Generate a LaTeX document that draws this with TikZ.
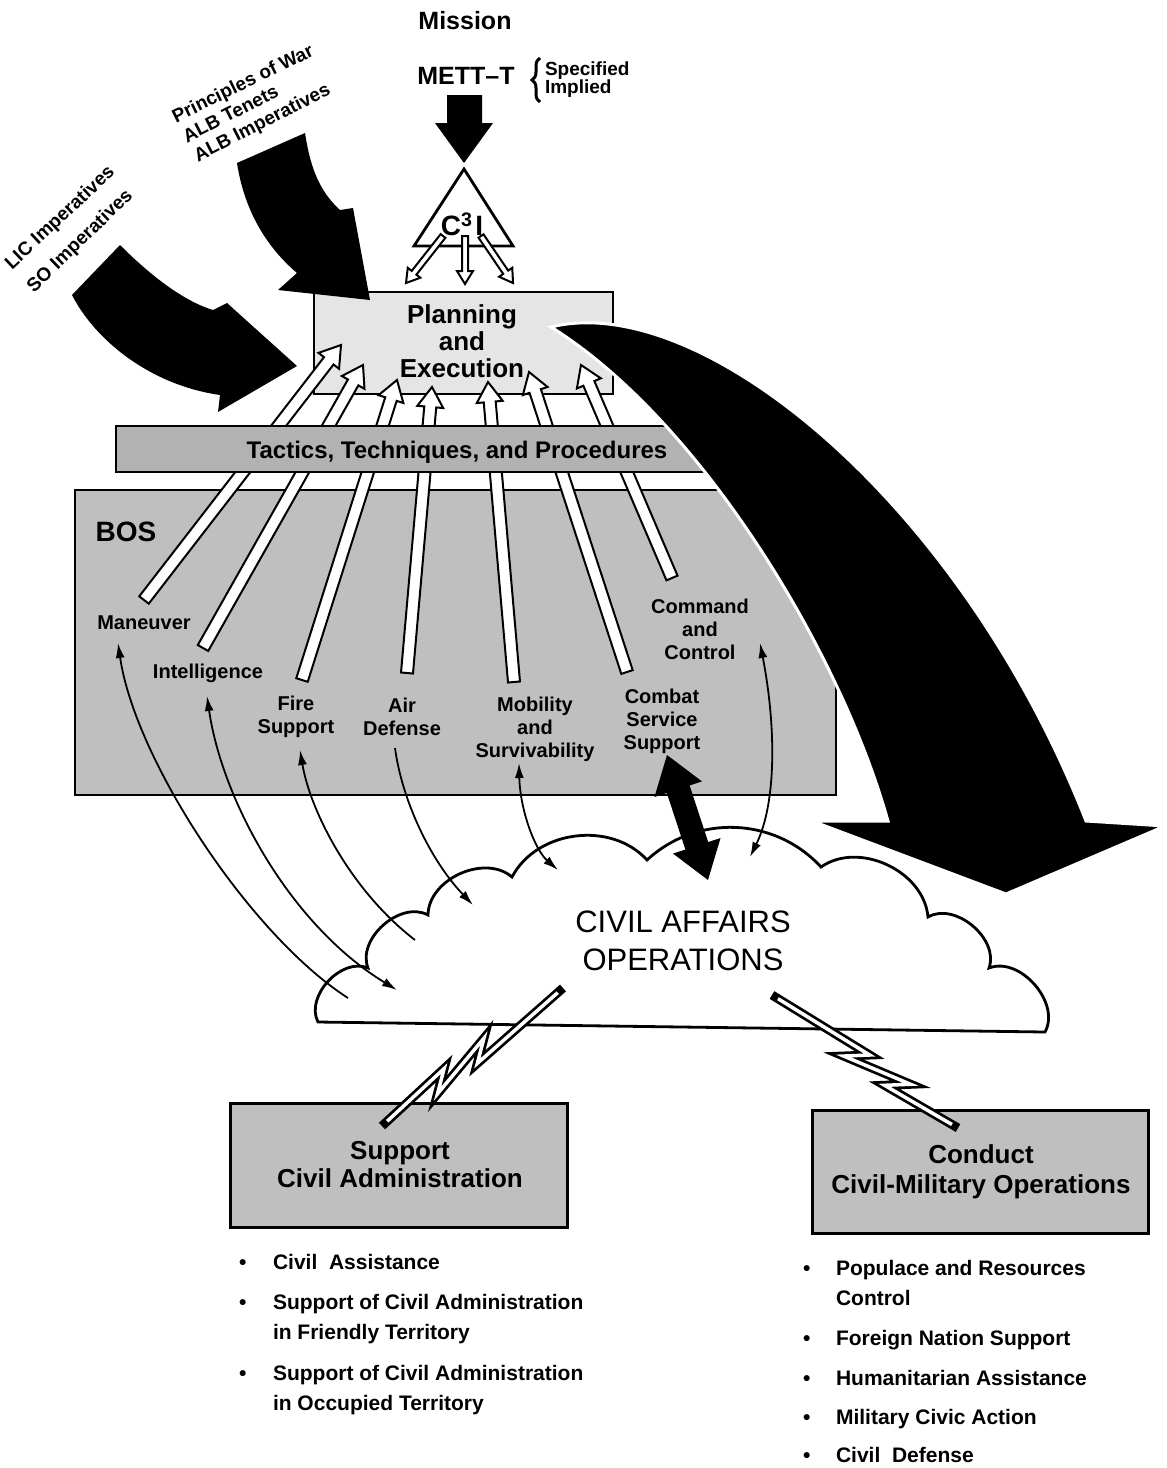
\documentclass[tikz,border=0pt]{standalone}
\usepackage{fontspec}
\setmainfont{Liberation Sans}
\usetikzlibrary{calc,arrows.meta,decorations.pathreplacing}

\newcommand{\hollowarrow}[6]{%
  \coordinate (#1hb) at ($(#3)!#6!(#2)$);
  \filldraw[hollowarr] ($(#2)!#4!90:(#3)$) -- ($(#1hb)!#4!90:(#3)$) -- ($(#1hb)!#5!90:(#3)$) -- (#3) -- ($(#1hb)!#5!-90:(#3)$) -- ($(#1hb)!#4!-90:(#3)$) -- ($(#2)!#4!-90:(#3)$) -- cycle;
}
\newcommand{\zigbolt}[2]{%
  \draw[line width=9pt, line join=miter, miter limit=5] (#1) -- ($(#1)!0.50!(#2)!8pt!90:(#2)$) -- ($(#1)!0.41!(#2)!8pt!-90:(#2)$) -- ($(#1)!0.72!(#2)!8pt!90:(#2)$) -- ($(#1)!0.63!(#2)!8pt!-90:(#2)$) -- (#2);
  \draw[line width=3.5pt, white, line join=miter, miter limit=5, shorten <=7pt, shorten >=7pt] (#1) -- ($(#1)!0.50!(#2)!8pt!90:(#2)$) -- ($(#1)!0.41!(#2)!8pt!-90:(#2)$) -- ($(#1)!0.72!(#2)!8pt!90:(#2)$) -- ($(#1)!0.63!(#2)!8pt!-90:(#2)$) -- (#2);
}

\begin{document}
\begin{tikzpicture}[x=1pt,y=-1pt,
  every node/.style={inner sep=0pt,outer sep=0pt},
  bf/.style 2 args={font=\bfseries\fontsize{#1}{#2}\selectfont},
  rg/.style 2 args={font=\fontsize{#1}{#2}\selectfont},
  boxfill/.style={fill=black!25, draw=black, line width=2.5pt},
  hollowarr/.style={fill=white, draw=black, line width=2pt, line join=miter},
  thinarr/.style={line width=1.8pt},
  listtext/.style={bf={21}{21}, anchor=west, text height=14pt, text depth=0pt},
  >={Latex[length=15pt,width=9pt]}
]
\useasboundingbox (0,0) rectangle (1167,1468);

% ---------- BOS box and Planning box
\node[boxfill, minimum width=761pt, minimum height=305pt] (bos) at (455.5,642.5) {};
\node[fill=black!10, draw=black, line width=2.2pt, minimum width=299pt, minimum height=102pt] (plan) at (463.5,343) {};

% ---------- hollow arrows BOS -> Planning
\coordinate (mant) at (144,600);  \coordinate (manh) at (341,345);
\coordinate (intt) at (203,648);  \coordinate (inth) at (363,365);
\coordinate (fst)  at (302,680);  \coordinate (fsh)  at (397,380);
\coordinate (adt)  at (407,673);  \coordinate (adh)  at (432,387);
\coordinate (mobt) at (514,682);  \coordinate (mobh) at (488,382);
\coordinate (csst) at (627,672);  \coordinate (cssh) at (529,372);
\coordinate (cct)  at (672,578);  \coordinate (cch)  at (581,365);
\hollowarrow{man}{mant}{manh}{6pt}{13pt}{20pt}
\hollowarrow{int}{intt}{inth}{6pt}{13pt}{20pt}
\hollowarrow{fs}{fst}{fsh}{6pt}{13pt}{20pt}
\hollowarrow{ad}{adt}{adh}{6pt}{13pt}{20pt}
\hollowarrow{mob}{mobt}{mobh}{6pt}{13pt}{20pt}
\hollowarrow{css}{csst}{cssh}{6pt}{13pt}{20pt}
\hollowarrow{cc}{cct}{cch}{6pt}{13pt}{20pt}

% ---------- TTP bar
\node[fill=black!30, draw=black, line width=2.2pt, minimum width=609pt, minimum height=46pt] (ttp) at (420.5,449) {};
\node[bf={24}{24}] (ttpt) at (457,452) {Tactics, Techniques, and Procedures};

% ---------- texts
\node[bf={26}{27}, align=center] (plant) at (462,341) {Planning\\and\\Execution};
\node[bf={28}{28}] (bosl) at (126,532) {BOS};
\node[bf={20}{20}] (manl) at (144,623) {Maneuver};
\node[bf={20}{20}] (intl) at (208,673) {Intelligence};
\node[bf={20}{23}, align=center] (fsl) at (296,717) {Fire\\Support};
\node[bf={20}{23}, align=center] (adl) at (402,717) {Air\\Defense};
\node[bf={20}{23}, align=center] (mobl) at (535,729) {Mobility\\and\\Survivability};
\node[bf={20}{23}, align=center] (cssl) at (662,721) {Combat\\Service\\Support};
\node[bf={20}{23}, align=center] (ccl) at (700,629) {Command\\and\\Control};

% ---------- big black arrow to the right
\filldraw[fill=black, draw=white, line width=3pt, line join=miter]
  (551,327) .. controls (700,290) and (960,500) .. (1086,821)
  -- (1165,826) -- (1006,894) -- (812,821) -- (888,821)
  .. controls (840,650) and (700,420) .. (551,327) -- cycle;

% ---------- left black curved arrows
\fill[black] (237,163) .. controls (245,215) and (270,250) .. (297,273) -- (278,290) -- (370,300) -- (353,208) -- (340,210) .. controls (318,190) and (310,165) .. (305,133) -- cycle;
\fill[black] (72,295) .. controls (95,340) and (150,385) .. (220,395) -- (218,412) -- (297,366) -- (227,303) -- (213,310) .. controls (180,300) and (145,270) .. (120,245) -- cycle;

\node[bf={19}{19}, rotate=26, anchor=base west] (pw) at (176,123) {Principles of War};
\node[bf={19}{19}, rotate=27, anchor=base west] (alt) at (187,143) {ALB Tenets};
\node[bf={19}{19}, rotate=27, anchor=base west] (ali) at (198,162) {ALB Imperatives};
\node[bf={19}{19}, rotate=43, anchor=base west] (lic) at (12,270) {LIC Imperatives};
\node[bf={19}{19}, rotate=44, anchor=base west] (soi) at (34,293) {SO Imperatives};

% ---------- Mission, METT-T, C3I
\node[bf={25}{25}] (mission) at (465,21) {Mission};
\node[bf={25}{25}] (mett) at (466,76) {METT--T};
\draw[decorate, decoration={brace, amplitude=8pt}, line width=3pt] (540,102) -- (540,58);
\node[bf={19}{19}, anchor=west] (spec) at (545,71) {Specified};
\node[bf={19}{19}, anchor=west] (impl) at (545,89) {Implied};
\fill[black] (447,95) -- (482,95) -- (482,123) -- (493,123) -- (464,163) -- (435,123) -- (447,123) -- cycle;
\draw[line width=2.8pt, fill=white, line join=miter] (464,169) -- (513,246) -- (414,246) -- cycle;
\node[bf={28}{28}] (c3i) at (462,224) {C\textsuperscript{3}\kern3pt I};
\coordinate (cat) at (443,236); \coordinate (cah) at (406,283);
\coordinate (cbt) at (465,236); \coordinate (cbh) at (465,284);
\coordinate (cct2) at (481,236); \coordinate (cch2) at (513,283);
\hollowarrow{ca}{cat}{cah}{3pt}{8pt}{13pt}
\hollowarrow{cb}{cbt}{cbh}{3pt}{8pt}{13pt}
\hollowarrow{cc2}{cct2}{cch2}{3pt}{8pt}{13pt}

% ---------- cloud
\draw[line width=2.8pt, fill=white] (318,1022) to[bend left=70] (368,968) to[bend left=70] (428,915) to[bend left=65] (512,877) to[bend left=55] (647,860) to[bend left=45] (821,867) to[bend left=60] (928,917) to[bend left=70] (989,968) to[bend left=70] (1045,1032) -- cycle;
\node[rg={31}{38}, align=center] (cao) at (683,941) {CIVIL AFFAIRS\\OPERATIONS};

% ---------- thin arrows BOS <-> cloud
\coordinate (m1) at (118,643); \coordinate (m2) at (348,998);
\coordinate (i1) at (207,696); \coordinate (i2) at (397,990);
\coordinate (f1) at (300,750); \coordinate (f2) at (415,940);
\coordinate (a1) at (395,748); \coordinate (a2) at (473,905);
\coordinate (o1) at (519,763); \coordinate (o2) at (558,870);
\coordinate (k1) at (760,643); \coordinate (k2) at (750,857);
\draw[thinarr,<-] (m1) .. controls (135,760) and (250,935) .. (m2);
\draw[thinarr,<->] (i1) .. controls (222,800) and (290,925) .. (i2);
\draw[thinarr,<-] (f1) .. controls (310,810) and (350,890) .. (f2);
\draw[thinarr,->] (a1) .. controls (402,800) and (430,860) .. (a2);
\draw[thinarr,<->] (o1) .. controls (520,810) and (535,850) .. (o2);
\draw[thinarr,<->] (k1) .. controls (775,720) and (778,800) .. (k2);

% ---------- CSS thick double arrow
\coordinate (sa) at (667,755); \coordinate (sb) at (708,880);
\coordinate (sha) at ($(sa)!36pt!(sb)$); \coordinate (shb) at ($(sb)!36pt!(sa)$);
\fill[black] (sa) -- ($(sha)!25pt!90:(sb)$) -- ($(sha)!12pt!90:(sb)$) -- ($(shb)!12pt!-90:(sa)$) -- ($(shb)!25pt!-90:(sa)$) -- (sb) -- ($(shb)!25pt!90:(sa)$) -- ($(shb)!12pt!90:(sa)$) -- ($(sha)!12pt!-90:(sb)$) -- ($(sha)!25pt!-90:(sb)$) -- cycle;

% ---------- bottom boxes
\node[boxfill, line width=3pt, minimum width=337pt, minimum height=124pt] (sca) at (398.5,1165) {};
\node[boxfill, line width=3pt, minimum width=336pt, minimum height=123pt] (cmo) at (980,1171.5) {};
\node[bf={26}{28}, align=center] (scat) at (400,1165) {Support\\Civil Administration};
\node[bf={26}{30}, align=center] (cmot) at (981,1172) {Conduct\\Civil-Military Operations};

% ---------- lightning bolts
\coordinate (b1a) at (563,988); \coordinate (b1b) at (382,1126);
\coordinate (b2a) at (772,995); \coordinate (b2b) at (958,1128);
\zigbolt{b1a}{b1b}
\zigbolt{b2a}{b2b}

% ---------- bullet lists
\foreach \y/\t [count=\i] in {1262/{Civil\ \ Assistance}, 1302/{Support of Civil Administration}, 1373/{Support of Civil Administration}} {
  \node[listtext] (lb\i) at (239,\y) {\textbullet};
  \node[listtext] (lt\i) at (273,\y) {\t};
}
\node[listtext] (lc1) at (273,1332) {in Friendly Territory};
\node[listtext] (lc2) at (273,1403) {in Occupied Territory};
\foreach \y/\t [count=\i] in {1268/{Populace and Resources}, 1338/{Foreign Nation Support}, 1378/{Humanitarian Assistance}, 1417/{Military Civic Action}, 1455/{Civil\ \ Defense}} {
  \node[listtext] (rb\i) at (803,\y) {\textbullet};
  \node[listtext] (rt\i) at (836,\y) {\t};
}
\node[listtext] (rc1) at (836,1298) {Control};
\end{tikzpicture}
\end{document}
